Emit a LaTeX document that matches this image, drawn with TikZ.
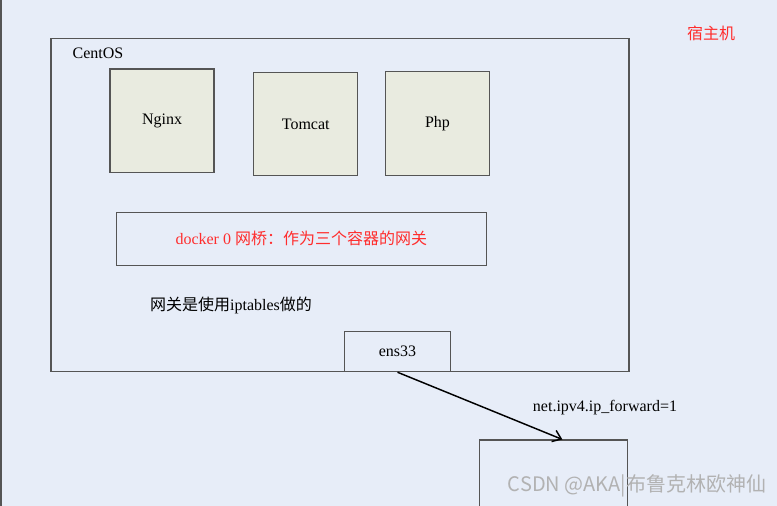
\documentclass[tikz,border=0pt]{standalone}
\usepackage{fontspec}
\setmainfont{Liberation Serif}
\newfontfamily\cjk{Noto Sans CJK SC}
\usetikzlibrary{arrows.meta,positioning}
\definecolor{bgblue}{RGB}{231,237,248}
\definecolor{boxfill}{RGB}{233,235,224}
\definecolor{edgegray}{RGB}{85,85,85}
\definecolor{labelred}{RGB}{255,45,45}

\begin{document}
\begin{tikzpicture}[
  x=0.75pt, y=-0.75pt,
  font=\fontsize{12}{14}\selectfont,
  >=Latex,
  frame/.style={draw=edgegray, line width=0.8pt, inner sep=0pt},
  appbox/.style={frame, fill=boxfill, minimum width=78pt, minimum height=77.5pt},
  arr/.style={-{Straight Barb[length=6pt, width=9pt]}, line width=1.1pt}
]
\clip (0,0) rectangle (777,506);
\fill[bgblue] (0,0) rectangle (777,506);
\draw[edgegray, line width=1.5pt] (1,-5) -- (1,511);
\node[frame, minimum width=433.5pt, minimum height=250pt] (centos) at (340,205) {};
\node (centoslabel) at (98,53) {CentOS};
\node[labelred] (host) at (711,33) {\cjk 宿主机};
\node[appbox] (nginx) at (162,120.7) {Nginx};
\node[appbox] (tomcat) at (305.7,124) {Tomcat};
\node[appbox] (php) at (437.5,123.5) {Php};
\node[frame, minimum width=277.5pt, minimum height=39.5pt, text=labelred] (docker) at (301.3,238.7) {docker 0 {\cjk 网桥：作为三个容器的网关}};
\node (gateway) at (231,305) {{\cjk 网关是使用}iptables{\cjk 做的}};
\node[frame, fill=bgblue, minimum width=79.2pt, minimum height=30pt] (ens) at (397.5,351.7) {ens33};
\node[frame, minimum width=111.2pt, minimum height=60pt] (peer) at (553.2,480) {};
\node (fwd) at (605,408) {net.ipv4.ip\_forward=1};
\draw[arr] (ens.south) -- ([xshift=6.9pt]peer.north);
\node[text=black!30, font=\cjk\fontsize{15}{17}\selectfont] (mark) at (637,486) {CSDN @AKA|布鲁克林欧神仙};
\end{tikzpicture}
\end{document}
